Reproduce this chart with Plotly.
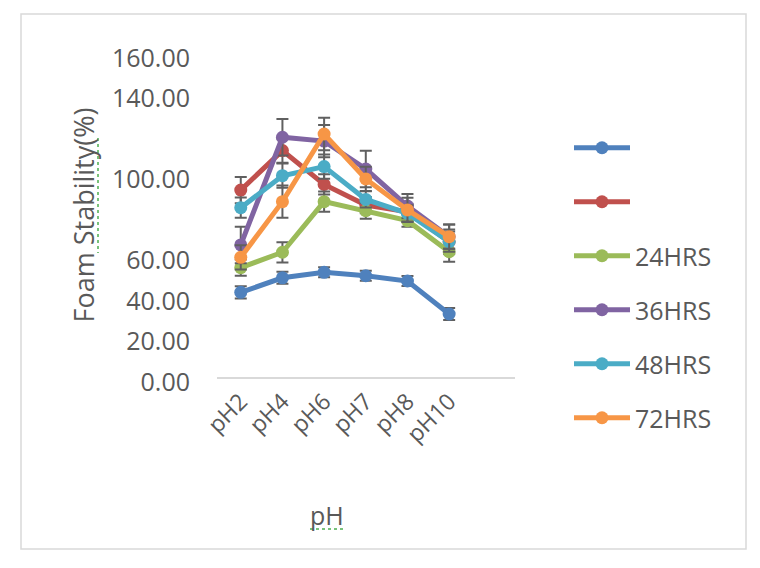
import plotly.graph_objects as go

categories = ["pH2", "pH4", "pH6", "pH7", "pH8", "pH10"]
series_names = [" ", "  ", "24HRS", "36HRS", "48HRS", "72HRS"]
colors = ["#4F81BD", "#C0504D", "#9BBB59", "#8064A2", "#4BACC6", "#F79646"]

blue_vals = [41.8, 49.0, 51.7, 50.0, 47.4, 31.1]
red_vals = [92.3, 111.8, 95.1, 84.9, 81.6, 66.8]
green_vals = [54.0, 61.6, 86.6, 82.1, 77.2, 61.9]
purple_vals = [65.2, 118.4, 116.5, 102.7, 84.4, 69.3]
cyan_vals = [83.6, 99.4, 103.9, 87.7, 80.8, 66.8]
orange_vals = [59.1, 86.6, 120.0, 97.8, 82.5, 69.3]

blue_err = [3, 3, 2.5, 2.5, 2.5, 3]
red_err = [6.5, 6, 5, 4, 4, 6]
green_err = [4, 5, 5, 4, 3, 5]
purple_err = [9, 9, 8, 9, 6, 6]
cyan_err = [5, 6, 6, 4, 4, 5]
orange_err = [6, 8, 8, 6, 6, 6]

y_ticks = [0, 20, 40, 60, 100, 140, 160]
y_ticktext = ["0.00", "20.00", "40.00", "60.00", "100.00", "140.00", "160.00"]

all_vals = [blue_vals, red_vals, green_vals, purple_vals, cyan_vals, orange_vals]
all_errs = [blue_err, red_err, green_err, purple_err, cyan_err, orange_err]

FONT = "Open Sans"
TXT = "#595959"

fig = go.Figure()
for i, (name, col, vals, errs) in enumerate(zip(series_names, colors, all_vals, all_errs)):
    fig.add_trace(go.Scatter(
        x=categories, y=vals, name=name, mode="lines+markers",
        line=dict(color=col, width=5),
        marker=dict(color=col, size=13),
        error_y=dict(type="data", array=errs, visible=True,
                     color="#606060", thickness=2, width=6),
        legendgroup=f"g{i}",
    ))

L, R, T, B = 217, 515, 53, 377
W, H = 760, 568
pw, ph = R - L, B - T

def px(x):
    return (x - L) / pw

def py(y):
    return (B - y) / ph

squiggle = dict(color="#4CAF50", width=1.5, dash="dot")

fig.update_layout(
    width=W, height=H,
    margin=dict(l=L, r=W - R, t=T, b=H - B),
    paper_bgcolor="white", plot_bgcolor="white",
    font=dict(family=FONT, color=TXT, size=22),
    showlegend=True,
    legend=dict(x=px(569), y=py(125), xanchor="left", yanchor="top",
                font=dict(size=25, color=TXT, family=FONT),
                tracegroupgap=18.5, traceorder="grouped", itemwidth=56,
                bgcolor="rgba(0,0,0,0)"),
    xaxis=dict(
        type="category", range=[-0.57, 6.58],
        showgrid=False, showline=True, linecolor="#d9d9d9", linewidth=2,
        ticks="", tickangle=-45, tickfont=dict(size=23, color=TXT, family=FONT),
        zeroline=False,
    ),
    yaxis=dict(
        range=[0, 160], showgrid=False, showline=False, zeroline=False,
        tickmode="array", tickvals=y_ticks, ticktext=y_ticktext,
        ticks="", ticklabelstandoff=26, ticklabelshift=5,
        tickfont=dict(size=25, color=TXT, family=FONT),
        title=dict(text="Foam Stability(%)", font=dict(size=27, color=TXT, family=FONT), standoff=9),
    ),
    annotations=[dict(text="pH", xref="paper", yref="paper", x=px(327), y=py(515),
                      xanchor="center", yanchor="middle", showarrow=False,
                      font=dict(size=25, color=TXT, family=FONT))],
    shapes=[
        dict(type="rect", xref="paper", yref="paper",
             x0=px(21), x1=px(746), y0=py(549), y1=py(14),
             line=dict(color="#d9d9d9", width=1.5), layer="below"),
        dict(type="line", xref="paper", yref="paper",
             x0=px(98), x1=px(98), y0=py(138), y1=py(253), line=squiggle),
        dict(type="line", xref="paper", yref="paper",
             x0=px(310), x1=px(345), y0=py(529), y1=py(529), line=squiggle),
    ],
)

fig.write_html("out.html")
